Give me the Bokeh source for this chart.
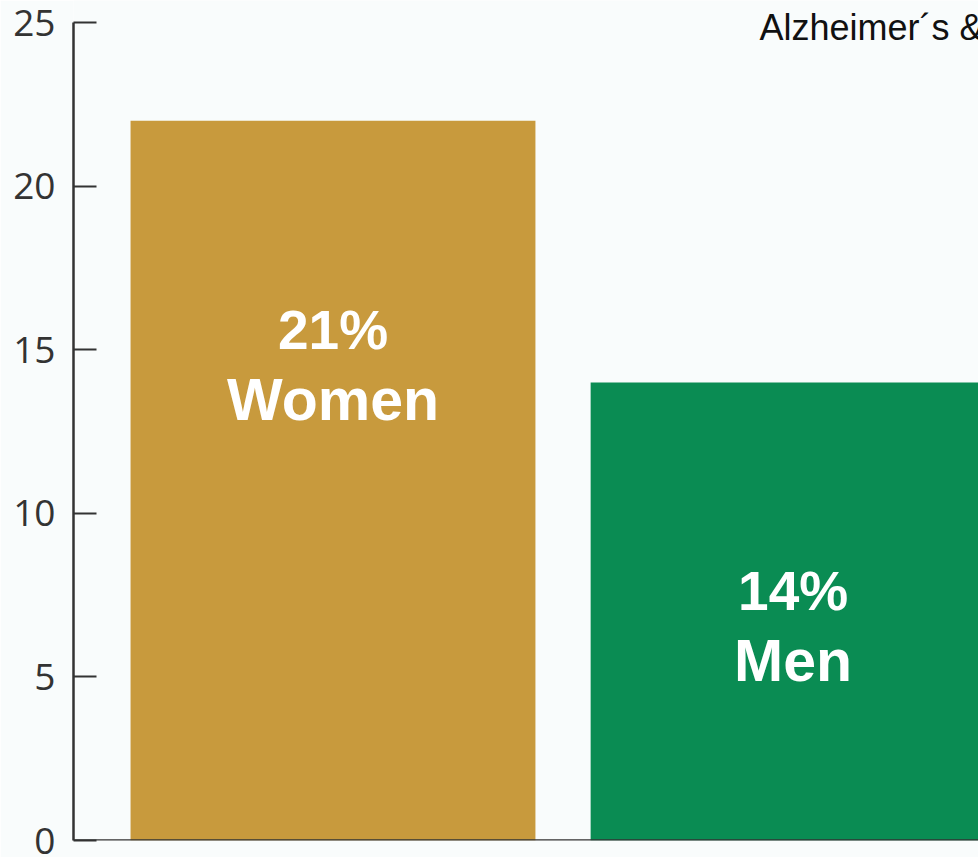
from bokeh.plotting import figure
from bokeh.models import Range1d, FixedTicker, ColumnDataSource, Span, Label
from bokeh.core.properties import value
from bokeh.embed import file_html
from bokeh.resources import INLINE

# ---- data ----
groups = ["Women", "Men"]
group_pos = [1, 2]
bar_heights = [22, 14]
pct_labels = ["21%", "14%"]
bar_colors = ["#C89A3D", "#0A8C53"]
y_ticks = [0, 5, 10, 15, 20, 25]
title_text = "Alzheimer\u00b4s &"

src = ColumnDataSource(dict(x=group_pos, top=bar_heights, color=bar_colors,
                            pct=pct_labels, name=groups))

p = figure(width=978, height=857, output_backend="svg", toolbar_location=None,
           x_range=Range1d(0.436, 2.403), y_range=Range1d(0, 25.672),
           min_border_left=73, min_border_right=0, min_border_top=0, min_border_bottom=17)
p.background_fill_color = "#F9FCFC"
p.border_fill_color = "#F9FCFC"
p.outline_line_color = None
p.grid.visible = False
p.xaxis.visible = False

p.vbar(x="x", top="top", bottom=0, width=0.88, color="color", line_color=None, source=src)

p.text(x="x", y="top", text="pct", source=src, y_offset=209,
       text_align="center", text_baseline="alphabetic",
       text_font=value("Liberation Sans"), text_font_style="bold",
       text_font_size="55px", text_color="white")
p.text(x="x", y="top", text="name", source=src, y_offset=279,
       text_align="center", text_baseline="alphabetic",
       text_font=value("Liberation Sans"), text_font_style="bold",
       text_font_size="59px", text_color="white")

ya = p.yaxis[0]
ya.ticker = FixedTicker(ticks=y_ticks)
ya.bounds = (0, 25)
ya.major_tick_in = 23
ya.major_tick_out = 0
ya.minor_tick_in = 0
ya.minor_tick_out = 0
ya.major_tick_line_color = "#333333"
ya.major_tick_line_width = 2
ya.axis_line_color = "#333333"
ya.axis_line_width = 2.5
ya.major_label_standoff = 18
ya.major_label_text_font = "Open Sans"
ya.major_label_text_font_size = "37px"
ya.major_label_text_color = "#333333"

p.add_layout(Span(location=0, dimension="width", line_color="#333333", line_width=2.5))

p.add_layout(Label(x=1.927, y=24.84, text=title_text, text_font="Liberation Sans",
                   text_font_size="36px", text_color="#111111",
                   text_baseline="alphabetic", text_align="left"))

open("out.html", "w").write(file_html(p, INLINE))
